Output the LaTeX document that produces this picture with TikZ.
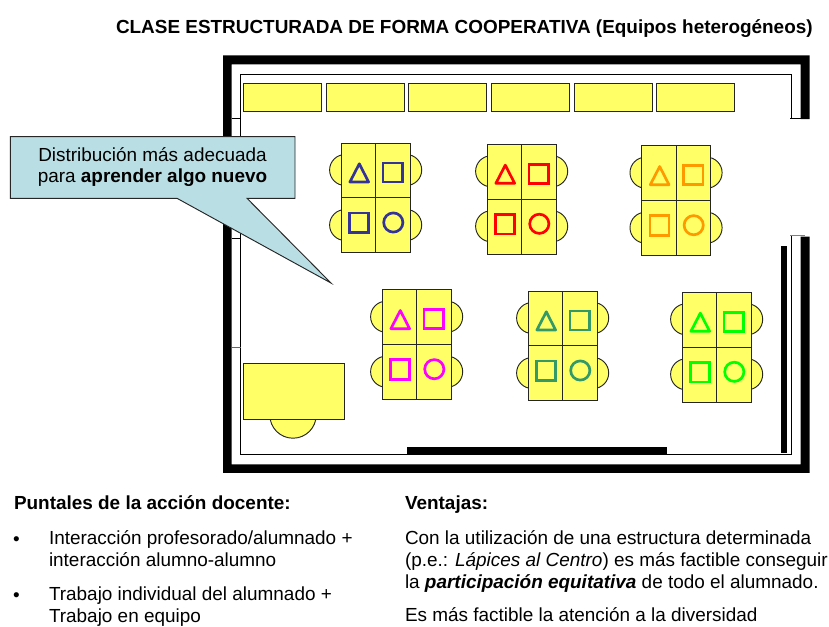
\documentclass[tikz,border=0pt]{standalone}
\usepackage{fontspec}
\setmainfont{Liberation Sans}
\definecolor{deskyellow}{HTML}{FFFF66}
\definecolor{calloutblue}{HTML}{B9DFE5}
\definecolor{cblue}{HTML}{333399}
\definecolor{cred}{HTML}{FF0000}
\definecolor{corange}{HTML}{FF9900}
\definecolor{cmagenta}{HTML}{FF00FF}
\definecolor{cteal}{HTML}{339966}
\definecolor{cgreen}{HTML}{00FF00}
\tikzset{
  wall/.style={fill=black,draw=none},
  thinline/.style={draw=black,line width=0.7pt},
  furniture/.style={draw=black!85!white,fill=deskyellow,line width=0.7pt},
  mark shape/.style={line width=2pt,line join=miter},
  txt/.style={inner sep=0pt,outer sep=0pt,anchor=base west,align=left,font=\fontsize{14.2pt}{16.3pt}\selectfont},
}
\newcommand{\deskgroup}[3]{%
  \begin{scope}[shift={(#1,#2)}]
    \foreach \yy in {27,82}{
      \draw[furniture] (3.8,\yy) circle (15.5);
      \draw[furniture] (64.9,\yy) circle (15.5);
    }
    \draw[furniture] (0,0) rectangle (34.4,54.7);
    \draw[furniture] (34.4,0) rectangle (68.7,54.7);
    \draw[furniture] (0,54.7) rectangle (34.4,109.7);
    \draw[furniture] (34.4,54.7) rectangle (68.7,109.7);
    \draw[mark shape,#3,line join=round] (18,20.8) -- (27.3,39) -- (8.6,39) -- cycle;
    \draw[mark shape,#3] (41.8,20) rectangle (61.3,39);
    \draw[mark shape,#3] (8.4,70) rectangle (27.3,89.6);
    \draw[mark shape,#3] (52,79.5) circle (9.6);
  \end{scope}
}
\begin{document}
\begin{tikzpicture}[x=0.75pt,y=-0.75pt]
\useasboundingbox (0,0) rectangle (829,626);
\fill[white] (0,0) rectangle (829,626);
% title
\node[txt,font=\fontsize{14.2pt}{16.3pt}\selectfont\bfseries] (title) at (116,33) {CLASE ESTRUCTURADA DE FORMA COOPERATIVA (Equipos heterogéneos)};
% walls
\fill[wall] (223,55.3) -- (809.6,55.3) -- (809.6,119) -- (800.7,119) -- (800.7,64.3) -- (231.5,64.3) -- (231.5,464.3) -- (800.7,464.3) -- (800.7,236.7) -- (809.6,236.7) -- (809.6,472.8) -- (223,472.8) -- cycle;
% inner outline
\draw[thinline] (791.7,118.7) -- (791.7,74) -- (240.5,74) -- (240.5,454) -- (791.7,454) -- (791.7,235);
\draw[thinline] (790,118.7) -- (800.7,118.7);
\draw[thinline,draw=black!50] (790,235) -- (805,235);
\draw[thinline] (231.5,118.7) -- (240.5,118.7);
\draw[thinline] (231.5,238.3) -- (240.5,238.3);
\draw[thinline,draw=black!60] (231.5,347.7) -- (240.5,347.7);
% black bars
\fill[wall] (407.3,446.7) rectangle (666.7,454.3);
\fill[wall] (781.3,246) rectangle (787.3,452.5);
% shelves
\foreach \xa/\xb in {243.3/321.4,326/404.1,408.7/486.7,491.3/569.3,574/652,656.4/734.7}{
  \draw[furniture] (\xa,83.4) rectangle (\xb,111.2);
}
% teacher
\draw[furniture] (293,415) circle (23.2);
\draw[furniture] (243.3,363.7) rectangle (344.3,419);
% desk groups
\deskgroup{341.3}{143}{cblue}
\deskgroup{487.3}{144.3}{cred}
\deskgroup{641.7}{145.7}{corange}
\deskgroup{382.3}{289.7}{cmagenta}
\deskgroup{528.3}{291}{cteal}
\deskgroup{682.3}{292.3}{cgreen}
% callout
\draw[draw=black!85!white,fill=calloutblue,line width=0.7pt,line join=miter] (10.3,136.7) -- (295,136.7) -- (295,198.3) -- (247,198.3) -- (331,283) -- (177,198.3) -- (10.3,198.3) -- cycle;
\node[txt,anchor=base,align=center] (calloutA) at (152.5,161) {Distribución más adecuada};
\node[txt,anchor=base,align=center] (calloutB) at (152.5,182.5) {para \textbf{aprender algo nuevo}};
% left column
\node[txt] (puntales) at (14,509) {\textbf{Puntales de la acción docente:}};
\node[txt] (bulA) at (13,545) {•};
\node[txt] (itemA) at (49,566.7) {Interacción profesorado/alumnado +\\interacción alumno-alumno};
\node[txt] (bulB) at (13,601) {•};
\node[txt] (itemB) at (49,622.7) {Trabajo individual del alumnado +\\Trabajo en equipo};
% right column
\node[txt] (ventajas) at (405,509) {\textbf{Ventajas:}};
\node[txt] (vA) at (405,588) {Con la utilización de una estructura determinada\\(p.e.: \textit{Lápices al Centro}) es más factible conseguir\\la \textbf{\textit{participación equitativa}} de todo el alumnado.};
\node[txt] (vB) at (405,621) {Es más factible la atención a la diversidad};
\end{tikzpicture}
\end{document}
